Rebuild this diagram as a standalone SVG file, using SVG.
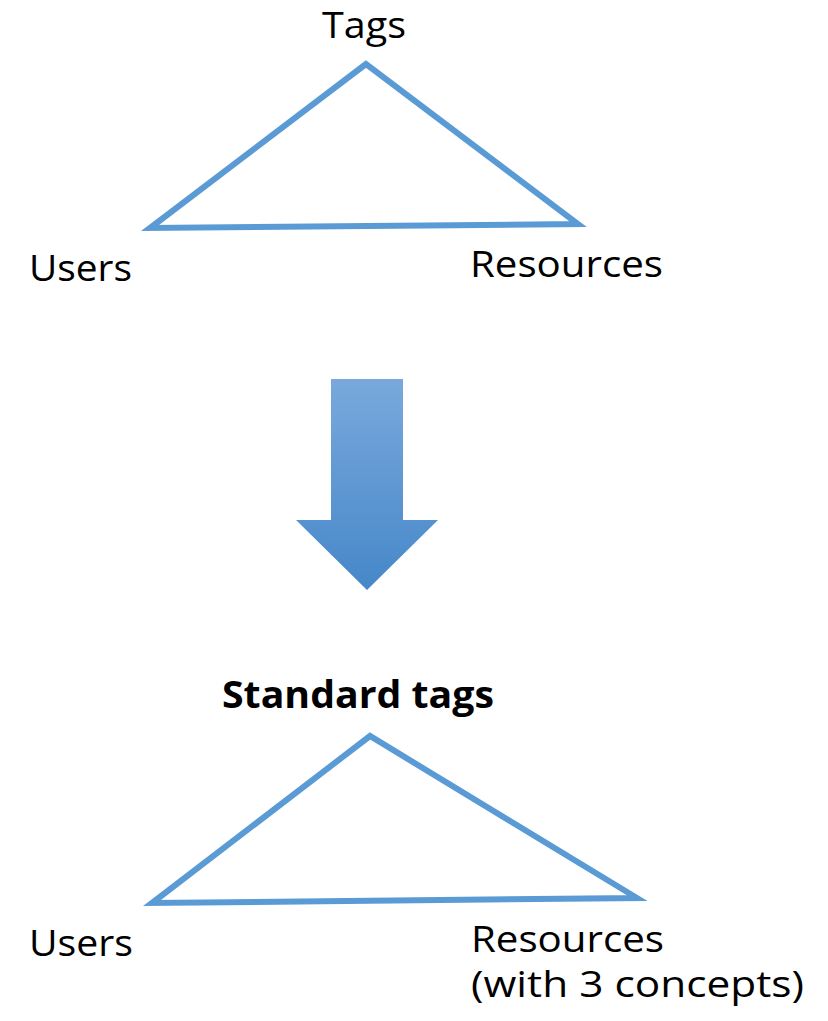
<svg xmlns="http://www.w3.org/2000/svg" width="828" height="1021" viewBox="0 0 828 1021">
  <defs>
    <linearGradient id="arrowGrad" x1="0" y1="0" x2="0" y2="1">
      <stop offset="0" stop-color="#79A9DC"/>
      <stop offset="1" stop-color="#4687C9"/>
    </linearGradient>
  </defs>
  <style>
    .lbl { font-family: "Open Sans", "Liberation Sans", sans-serif; font-size: 37px; fill: #000; }
    .lbl2 { font-family: "Open Sans", "Liberation Sans", sans-serif; font-size: 36px; fill: #000; }
    .bold { font-weight: bold; }
    .tri { fill: none; stroke: #5B9BD5; stroke-width: 6; stroke-linejoin: miter; }
  </style>
  <rect width="828" height="1021" fill="#fff"/>

  <g id="connectors">
    <polygon class="tri" points="366,64 150,228 578,224"/>
    <polygon class="tri" points="370,736 152,903 637,898"/>
  </g>

  <g id="arrow">
    <polygon points="331,379 403,379 403,520 438,520 367,590 296,520 331,520" fill="url(#arrowGrad)"/>
  </g>

  <g id="node-tags">
    <text class="lbl" x="364" y="38" text-anchor="middle" textLength="84" lengthAdjust="spacingAndGlyphs">Tags</text>
  </g>
  <g id="node-users-top">
    <text class="lbl" x="29" y="281" textLength="103" lengthAdjust="spacingAndGlyphs">Users</text>
  </g>
  <g id="node-resources-top">
    <text class="lbl" x="470" y="277" textLength="193" lengthAdjust="spacingAndGlyphs">Resources</text>
  </g>
  <g id="node-standard-tags">
    <text class="lbl bold" x="222" y="708" textLength="272" lengthAdjust="spacingAndGlyphs">Standard tags</text>
  </g>
  <g id="node-users-bottom">
    <text class="lbl" x="29" y="956" textLength="104" lengthAdjust="spacingAndGlyphs">Users</text>
  </g>
  <g id="node-resources-bottom">
    <text class="lbl2" x="471" y="952" textLength="193" lengthAdjust="spacingAndGlyphs">Resources</text>
    <text class="lbl2" x="471" y="997" textLength="333" lengthAdjust="spacingAndGlyphs">(with 3 concepts)</text>
  </g>
</svg>
